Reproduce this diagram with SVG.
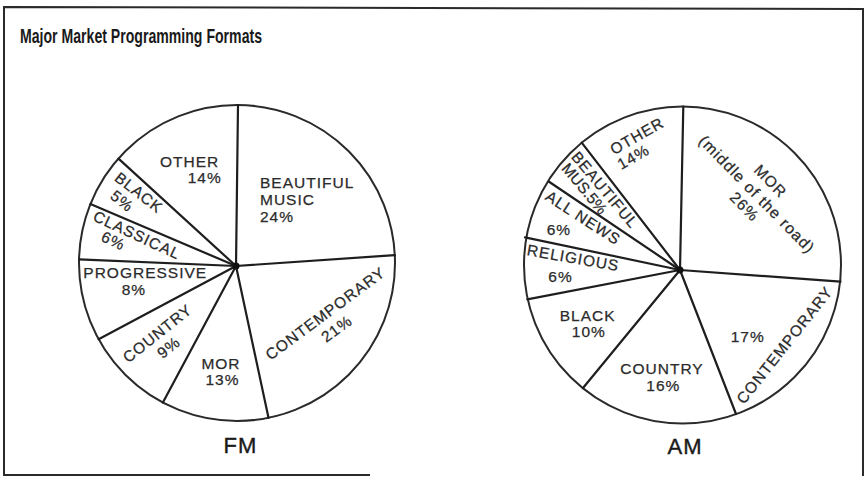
<svg xmlns="http://www.w3.org/2000/svg" width="866" height="477" viewBox="0 0 866 477">
<style>
.frame{fill:none;stroke:#2a2a2a;stroke-width:2}
.pie{fill:#fff;stroke:#2a2a2a;stroke-width:2}
.spoke{stroke:#1e1e1e;stroke-width:2.2;stroke-linecap:round}
.hub{fill:#111}
.t{font-family:"Liberation Sans",Arial,Helvetica,sans-serif;font-size:15.5px;fill:#2b2b2b;stroke:#2b2b2b;stroke-width:0.25;letter-spacing:1px}
.m{text-anchor:middle}
.title{font-family:"Liberation Sans",Arial,Helvetica,sans-serif;font-size:20.5px;font-weight:bold;fill:#1a1a1a}
.big{font-family:"Liberation Sans",Arial,Helvetica,sans-serif;font-size:22px;fill:#1a1a1a;stroke:#1a1a1a;stroke-width:0.4;text-anchor:middle;letter-spacing:1px}
</style>
<rect width="866" height="477" fill="#fff"/>
<path class="frame" d="M370 475 L4 475 L4 7 L863 9 L863 476"/>
<text class="title" x="20" y="43" textLength="242" lengthAdjust="spacingAndGlyphs">Major Market Programming Formats</text>

<g id="fm">
  <circle class="pie" cx="237" cy="263" r="158"/>
  <g id="fm-connectors">
    <line class="spoke" x1="236" y1="266" x2="238" y2="105"/>
    <line class="spoke" x1="236" y1="266" x2="394.8" y2="255.1"/>
    <line class="spoke" x1="236" y1="266" x2="268.5" y2="417.8"/>
    <line class="spoke" x1="236" y1="266" x2="162.9" y2="402.5"/>
    <line class="spoke" x1="236" y1="266" x2="98.6" y2="339.2"/>
    <line class="spoke" x1="236" y1="266" x2="79" y2="259.4"/>
    <line class="spoke" x1="236" y1="266" x2="90.4" y2="204.1"/>
    <line class="spoke" x1="236" y1="266" x2="118.5" y2="158.6"/>
    <circle class="hub" cx="236" cy="266" r="3.5"/>
  </g>
  <g id="fm-beautiful"><text class="t" x="260" y="188.3">BEAUTIFUL</text><text class="t" x="260" y="205">MUSIC</text><text class="t" x="260" y="221.7">24%</text></g>
  <g id="fm-contemporary" transform="translate(325.3,313.3) rotate(-36.5)"><text class="t m" x="0" y="5.5">CONTEMPORARY</text><text class="t m" x="0" y="24.5">21%</text></g>
  <g id="fm-mor"><text class="t m" x="221" y="369">MOR</text><text class="t m" x="222.5" y="385">13%</text></g>
  <g id="fm-country" transform="translate(157.3,333.3) rotate(-38.6)"><text class="t m" x="0" y="5.5">COUNTRY</text><text class="t m" x="0" y="23.5">9%</text></g>
  <g id="fm-progressive"><text class="t" x="83.3" y="278.3">PROGRESSIVE</text><text class="t" x="121.7" y="295">8%</text></g>
  <g id="fm-classical" transform="translate(137,235) rotate(25)"><text class="t m" x="0" y="5.5">CLASSICAL</text><text class="t m" x="-19" y="20.5">6%</text></g>
  <g id="fm-black" transform="translate(139,192.5) rotate(38)"><text class="t m" x="0" y="5.5">BLACK</text><text class="t m" x="-8" y="22.5">5%</text></g>
  <g id="fm-other"><text class="t" x="160" y="166.7">OTHER</text><text class="t" x="187.7" y="183.3">14%</text></g>
  <text class="big" x="240.5" y="452.7">FM</text>
</g>

<g id="am">
  <circle class="pie" cx="682.5" cy="265" r="158.5"/>
  <g id="am-connectors">
    <line class="spoke" x1="680" y1="270" x2="683.3" y2="106.5"/>
    <line class="spoke" x1="680" y1="270" x2="840.5" y2="281.7"/>
    <line class="spoke" x1="680" y1="270" x2="736" y2="414"/>
    <line class="spoke" x1="680" y1="270" x2="583" y2="388"/>
    <line class="spoke" x1="680" y1="270" x2="527.3" y2="299.3"/>
    <line class="spoke" x1="680" y1="270" x2="525" y2="237.3"/>
    <line class="spoke" x1="680" y1="270" x2="548.7" y2="181.5"/>
    <line class="spoke" x1="680" y1="270" x2="581.7" y2="142.7"/>
    <circle class="hub" cx="680" cy="270" r="3.5"/>
  </g>
  <g id="am-mor" transform="translate(756.7,194.7) rotate(45.5)"><text class="t m" x="0" y="-14">MOR</text><text class="t m" x="0" y="5" textLength="158" lengthAdjust="spacingAndGlyphs">(middle of the road)</text><text class="t m" x="0" y="22.5">26%</text></g>
  <g id="am-contemporary"><text class="t" x="730.7" y="341.7">17%</text><g transform="translate(784.5,345) rotate(-51.6)"><text class="t m" x="0" y="5.5">CONTEMPORARY</text></g></g>
  <g id="am-country"><text class="t m" x="662" y="374">COUNTRY</text><text class="t m" x="663.3" y="390.7">16%</text></g>
  <g id="am-black"><text class="t m" x="587.7" y="320.7">BLACK</text><text class="t m" x="588.8" y="336.7">10%</text></g>
  <g id="am-religious"><g transform="translate(573.2,257.8) rotate(10)"><text class="t m" x="0" y="5.5">RELIGIOUS</text></g><text class="t" x="548.3" y="281.7">6%</text></g>
  <g id="am-allnews"><g transform="translate(583.2,217.8) rotate(33)"><text class="t m" x="0" y="5.5">ALL NEWS</text></g><text class="t" x="546.7" y="235">6%</text></g>
  <g id="am-beautiful" transform="translate(605,189.7) rotate(50)"><text class="t m" x="0" y="5.5">BEAUTIFUL</text><text class="t m" x="-14" y="20.5" style="letter-spacing:0">MUS.5%</text></g>
  <g id="am-other" transform="translate(637,135.8) rotate(-29.6)"><text class="t m" x="0" y="5.5">OTHER</text><text class="t m" x="-13.5" y="22">14%</text></g>
  <text class="big" x="685" y="454">AM</text>
</g>
</svg>
